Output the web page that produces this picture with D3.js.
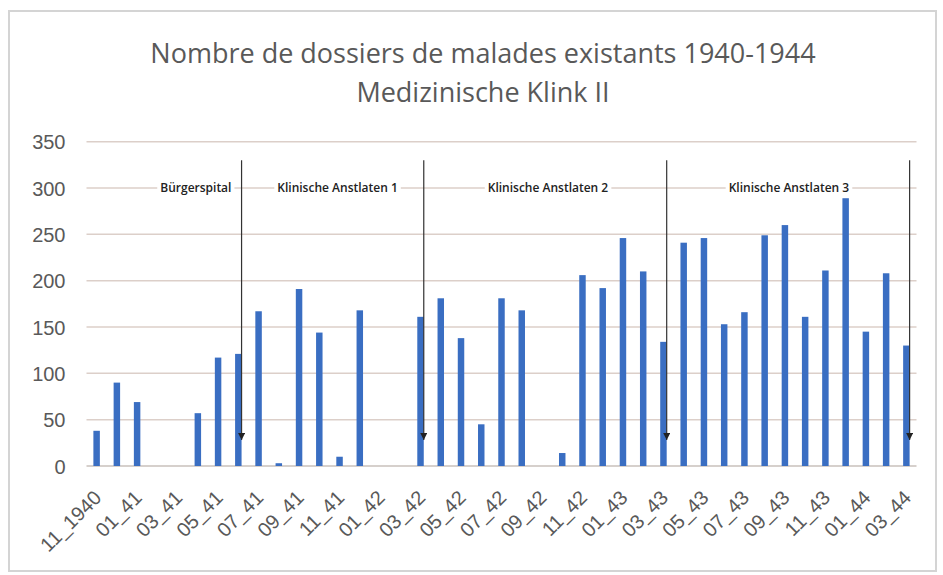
<!DOCTYPE html>
<html>
<head>
<meta charset="utf-8">
<script src="https://cdn.jsdelivr.net/npm/d3@7"></script>
<style>
  body { margin: 0; background: #fff; }
  svg { font-family: "Open Sans", sans-serif; }
  .tick text { fill: #595959; }
</style>
</head>
<body>
<div id="chart"></div>
<script>
const titleLines = ["Nombre de dossiers de malades existants 1940-1944", "Medizinische Klink II"];

const months = [
  "11_1940", "12_40",
  "01_41", "02_41", "03_41", "04_41", "05_41", "06_41", "07_41", "08_41", "09_41", "10_41", "11_41", "12_41",
  "01_42", "02_42", "03_42", "04_42", "05_42", "06_42", "07_42", "08_42", "09_42", "10_42", "11_42", "12_42",
  "01_43", "02_43", "03_43", "04_43", "05_43", "06_43", "07_43", "08_43", "09_43", "10_43", "11_43", "12_43",
  "01_44", "02_44", "03_44"
];

const dossiers = [
  38, 90,
  69, 0, 0, 57, 117, 121, 167, 3, 191, 144, 10, 168,
  0, 0, 161, 181, 138, 45, 181, 168, 0, 14, 206, 192,
  246, 210, 134, 241, 246, 153, 166, 249, 260, 161, 211, 289,
  145, 208, 130
];

const yTicks = [0, 50, 100, 150, 200, 250, 300, 350];

// vertical arrows marking the moves between sites
const arrowMonths = ["06_41", "03_42", "03_43", "03_44"];

const siteNames = ["Bürgerspital", "Klinische Anstlaten 1", "Klinische Anstlaten 2", "Klinische Anstlaten 3"];
const siteAnchor = ["04_41", "11_41", "09_42", "09_43"];
const siteShift = [-2, -2, 6, 4];

const W = 943, H = 575;
const plot = { left: 86.5, right: 916.5, top: 141.7, bottom: 466 };

const svg = d3.select("#chart").append("svg")
    .attr("width", W)
    .attr("height", H);

svg.append("rect")
    .attr("x", 9).attr("y", 11)
    .attr("width", 927).attr("height", 560)
    .attr("fill", "#fff")
    .attr("stroke", "#d4d4d4")
    .attr("stroke-width", 2);

const x = d3.scaleBand()
    .domain(months)
    .range([plot.left, plot.right])
    .paddingInner(0.68)
    .paddingOuter(0.34);

const y = d3.scaleLinear()
    .domain([0, 350])
    .range([plot.bottom, plot.top]);

// title
svg.selectAll(".title")
    .data(titleLines)
    .enter().append("text")
    .attr("class", "title")
    .attr("x", 483)
    .attr("y", (d, i) => 63 + i * 39)
    .attr("text-anchor", "middle")
    .attr("fill", "#595959")
    .style("font-size", "27px")
    .text(d => d);

// gridlines
svg.append("g")
    .selectAll("line")
    .data(yTicks)
    .enter().append("line")
    .attr("x1", plot.left).attr("x2", plot.right)
    .attr("y1", d => y(d)).attr("y2", d => y(d))
    .attr("stroke", d => d === 0 ? "#c9c0bb" : "#dccfc9")
    .attr("stroke-width", 1.5);

// y axis labels
const yAxis = svg.append("g")
    .attr("transform", `translate(${plot.left - 21},0)`)
    .call(d3.axisLeft(y).tickValues(yTicks).tickSize(0).tickPadding(0));
yAxis.select(".domain").remove();
yAxis.selectAll("text")
    .style("font-size", "20px")
    .attr("dy", "0.35em");

// bars
svg.append("g")
    .selectAll("rect")
    .data(dossiers)
    .enter().append("rect")
    .attr("x", (d, i) => x(months[i]))
    .attr("width", x.bandwidth())
    .attr("y", d => y(d))
    .attr("height", d => y(0) - y(d))
    .attr("fill", "#3a6ec2");

// x axis labels, every second month
const xAxis = svg.append("g")
    .attr("transform", `translate(0,${plot.bottom})`)
    .call(d3.axisBottom(x)
        .tickValues(months.filter((m, i) => i % 2 === 0))
        .tickSize(0));
xAxis.select(".domain").remove();
xAxis.selectAll("text")
    .style("font-size", "20px")
    .attr("text-anchor", "end")
    .attr("dy", null)
    .attr("y", 0)
    .attr("transform", "translate(6,33) rotate(-45)");

// arrows
svg.append("defs").append("marker")
    .attr("id", "head")
    .attr("viewBox", "0 0 10 10")
    .attr("refX", 10).attr("refY", 5)
    .attr("markerWidth", 7).attr("markerHeight", 7)
    .attr("markerUnits", "userSpaceOnUse")
    .attr("orient", "auto")
  .append("path")
    .attr("d", "M0,0L10,5L0,10z")
    .attr("fill", "#222");

svg.append("g")
    .selectAll("line")
    .data(arrowMonths)
    .enter().append("line")
    .attr("x1", d => x(d) + x.bandwidth())
    .attr("x2", d => x(d) + x.bandwidth())
    .attr("y1", y(330))
    .attr("y2", y(28))
    .attr("stroke", "#333")
    .attr("stroke-width", 1.2)
    .attr("marker-end", "url(#head)");

// site labels
const site = svg.append("g")
    .selectAll("g")
    .data(siteNames)
    .enter().append("g")
    .attr("transform", (d, i) => `translate(${x(siteAnchor[i]) + x.bandwidth() / 2 + siteShift[i]},${y(300)})`);

site.append("text")
    .attr("text-anchor", "middle")
    .attr("dy", "0.35em")
    .attr("fill", "#222")
    .style("font-size", "12px")
    .style("font-weight", 600)
    .text(d => d)
    .each(function() {
        const b = this.getBBox();
        d3.select(this.parentNode).insert("rect", "text")
            .attr("x", b.x - 3).attr("y", b.y)
            .attr("width", b.width + 6).attr("height", b.height)
            .attr("fill", "#fff");
    });
</script>
</body>
</html>
